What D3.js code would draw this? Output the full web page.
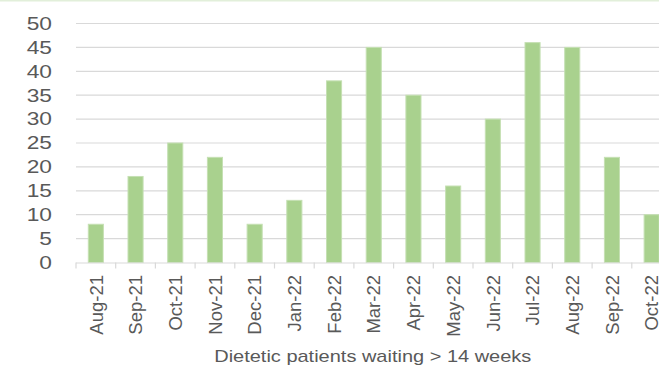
<!DOCTYPE html>
<html><head><meta charset="utf-8">
<script src="https://cdn.jsdelivr.net/npm/d3@7"></script>
<style>body{margin:0;background:#fff;overflow:hidden}svg{display:block}</style>
</head><body>
<script>
const categories = ["Aug-21","Sep-21","Oct-21","Nov-21","Dec-21","Jan-22","Feb-22","Mar-22","Apr-22","May-22","Jun-22","Jul-22","Aug-22","Sep-22","Oct-22"];
const values = [8,18,25,22,8,13,38,45,35,16,30,46,45,22,10];
const yTicks = [0,5,10,15,20,25,30,35,40,45,50];
const title = "Dietetic patients waiting > 14 weeks";

(function(){
const W = 659, H = 367;
const svg = d3.select("body").append("svg").attr("width", W).attr("height", H);
svg.append("rect").attr("x",0).attr("y",0).attr("width",W).attr("height",1.5).attr("fill","#e2efda");

const mLeft = 76, mRight = 671.5, mTop = 23.5, mBottom = 262.5;
const x = d3.scaleBand().domain(categories).range([mLeft, mRight]).paddingInner(0.62).paddingOuter(0.31);
const y = d3.scaleLinear().domain([0,50]).range([mBottom, mTop]);
const font = "'Liberation Sans', Arial, sans-serif";

// gridlines
svg.append("g").selectAll("line").data(yTicks.filter(d=>d>0)).join("line")
  .attr("x1", mLeft).attr("x2", W).attr("y1", d=>y(d)).attr("y2", d=>y(d))
  .attr("stroke","#d9d9d9").attr("stroke-width",1.2);

// y labels
svg.append("g").selectAll("text").data(yTicks).join("text")
  .attr("transform", d=>`translate(52,${y(d)}) scale(1.3,1)`)
  .attr("dy","0.36em").attr("text-anchor","end")
  .attr("font-family", font).attr("font-size", 17.5).attr("fill","#595959").text(d=>d);

// bars
svg.append("g").selectAll("rect").data(values).join("rect")
  .attr("x",(d,i)=>x(categories[i])).attr("width", x.bandwidth())
  .attr("y", d=>y(d)).attr("height", d=>y(0)-y(d))
  .attr("fill","#a9d18e").attr("stroke","#c5e0b3").attr("stroke-width",1);

// x axis
svg.append("line").attr("x1",mLeft).attr("x2",W).attr("y1",mBottom+0.5).attr("y2",mBottom+0.5)
  .attr("stroke","#d9d9d9").attr("stroke-width",1.2);
const step = x.step();
svg.append("g").selectAll("line").data(d3.range(categories.length+1)).join("line")
  .attr("x1", i=>mLeft + i*step).attr("x2", i=>mLeft + i*step)
  .attr("y1", mBottom).attr("y2", mBottom+6).attr("stroke","#d9d9d9").attr("stroke-width",1.2);

svg.append("g").selectAll("text").data(categories).join("text")
  .attr("transform", d=>`translate(${x(d)+x.bandwidth()/2},275) rotate(-90)`)
  .attr("dy","0.36em").attr("text-anchor","end")
  .attr("font-family", font).attr("font-size", 18.5).attr("fill","#595959").text(d=>d);

svg.append("text").attr("transform", `translate(${(mLeft+mRight)/2 - 1},362) scale(1.19,1)`).attr("text-anchor","middle")
  .attr("font-family", font).attr("font-size", 16.8).attr("fill","#595959").text(title);
})();
</script>
</body></html>
